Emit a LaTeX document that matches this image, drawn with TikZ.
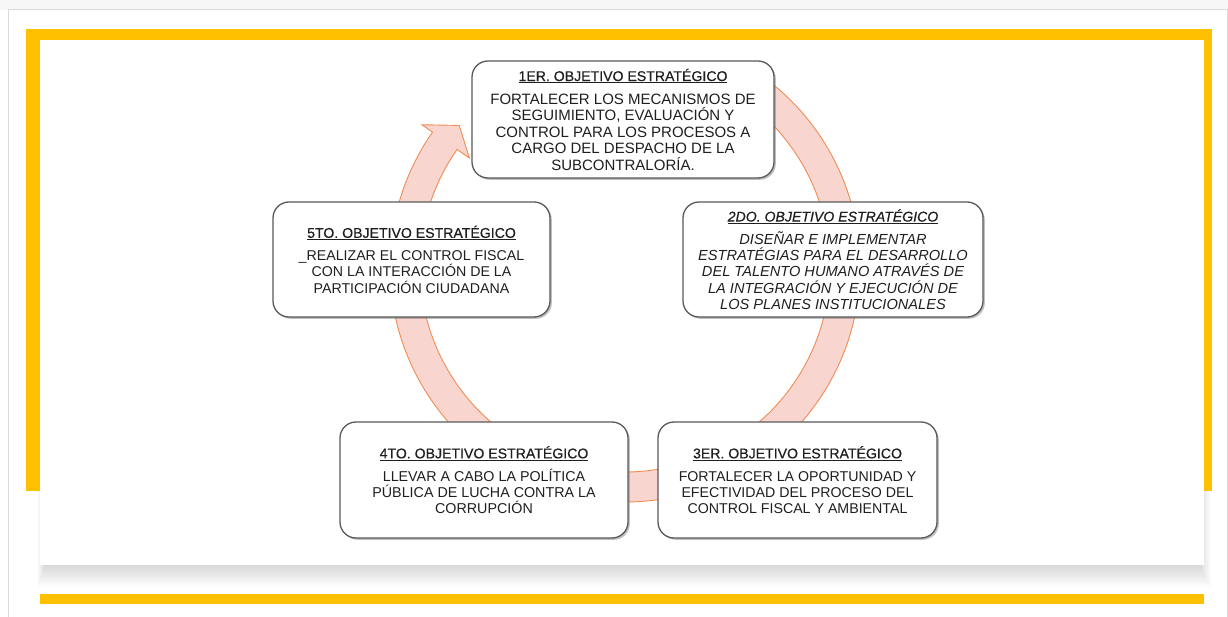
\documentclass[tikz,border=0pt]{standalone}
\usepackage{fontspec}
\setmainfont{Liberation Sans}
\newfontfamily\titlefam[FakeBold=0.5]{Liberation Sans}
\usetikzlibrary{shadows,calc}
\definecolor{gold}{RGB}{255,192,0}
\definecolor{ringfill}{RGB}{248,214,207}
\definecolor{ringline}{RGB}{240,140,85}
\definecolor{boxline}{RGB}{89,89,89}
\newcommand\myul[1]{\setbox0\hbox{#1}\rlap{\rule[-2.4pt]{\wd0}{1.1pt}}\box0}
\newcommand\ttl{\titlefam\fontsize{14.1}{16.5}\selectfont}
\newcommand\ringband[2]{\filldraw[ringst] ($(c)+(#1:235pt)$) arc[start angle=#1,end angle=#2,radius=235pt] -- ($(c)+(#2:205pt)$) arc[start angle=#2,end angle=#1,radius=205pt] -- cycle;}
\begin{document}
\begin{tikzpicture}[x=1pt,y=1pt,
 objbox/.style={draw=boxline, line width=1.3pt, fill=white, rounded corners=16pt,
   drop shadow={shadow xshift=1.8pt, shadow yshift=-1.8pt, opacity=.45, fill=black!55},
   text=black!88, align=center, inner sep=0pt},
 ringst/.style={fill=ringfill, draw=ringline, line width=0.9pt, line join=miter}
]
\useasboundingbox (0,0) rectangle (1228,616);
\fill[white] (0,0) rectangle (1228,616);
\fill[black!3] (0,606) rectangle (1228,616);
\draw[black!14, line width=1pt] (8.5,-1) -- (8.5,606) -- (1227,606) -- (1227,-1);
% card shadow (soft)
\foreach \i in {1,...,14} \fill[black, opacity=0.011] (46-0.6*\i, 53-1.7*\i) rectangle (1198+0.9*\i, 500);
% yellow frame
\fill[gold] (26,125) rectangle (1212,587);
% card
\fill[white] (40,51) rectangle (1204,576);
% bottom line
\fill[gold] (40,12) rectangle (1204,22);

% ring
\coordinate (c) at (625,349);
\ringband{55}{5}
\ringband{-5}{-55}
\ringband{-80}{-100}
\ringband{235}{185}
\filldraw[ringst] ($(c)+(175:235pt)$) arc[start angle=175,end angle=145,radius=235pt]
  -- ($(c)+(145:248pt)$) -- ($(c)+(139.5:218pt)$) -- ($(c)+(145:190pt)$) -- ($(c)+(145:205pt)$)
  arc[start angle=145,end angle=175,radius=205pt] -- cycle;

% boxes
\node[objbox, minimum width=302pt, minimum height=117pt, font=\fontsize{15}{16.5}\selectfont] (o1) at (623,496.5)
 {{\ttl\myul{1ER. OBJETIVO ESTRATÉGICO}}\\[6.5pt]
  FORTALECER LOS MECANISMOS DE\\ SEGUIMIENTO, EVALUACIÓN Y\\ CONTROL PARA LOS PROCESOS A\\ CARGO DEL DESPACHO DE LA\\ SUBCONTRALORÍA.};
\node[objbox, minimum width=300pt, minimum height=115pt, font=\fontsize{14.6}{16.3}\selectfont\itshape] (o2) at (833,356.5)
 {{\ttl\itshape\myul{2DO. OBJETIVO ESTRATÉGICO}}\\[6.5pt]
  DISEÑAR E IMPLEMENTAR\\ ESTRATÉGIAS PARA EL DESARROLLO\\ DEL TALENTO HUMANO ATRAVÉS DE\\ LA INTEGRACIÓN Y EJECUCIÓN DE\\ LOS PLANES INSTITUCIONALES};
\node[objbox, minimum width=279pt, minimum height=116pt, font=\fontsize{14.2}{16.3}\selectfont] (o3) at (797.5,136)
 {{\ttl\myul{3ER. OBJETIVO ESTRATÉGICO}}\\[6.5pt]
  FORTALECER LA OPORTUNIDAD Y\\ EFECTIVIDAD DEL PROCESO DEL\\ CONTROL FISCAL Y AMBIENTAL};
\node[objbox, minimum width=288pt, minimum height=116pt, font=\fontsize{14.3}{16.3}\selectfont] (o4) at (484,136)
 {{\ttl\myul{4TO. OBJETIVO ESTRATÉGICO}}\\[6.5pt]
  LLEVAR A CABO LA POLÍTICA\\ PÚBLICA DE LUCHA CONTRA LA\\ CORRUPCIÓN};
\node[objbox, minimum width=277pt, minimum height=115pt, font=\fontsize{14.2}{16.3}\selectfont] (o5) at (411.5,356.5)
 {{\ttl\myul{5TO. OBJETIVO ESTRATÉGICO}}\\[6.5pt]
  \_REALIZAR EL CONTROL FISCAL\\ CON LA INTERACCIÓN DE LA\\ PARTICIPACIÓN CIUDADANA};
\end{tikzpicture}
\end{document}
